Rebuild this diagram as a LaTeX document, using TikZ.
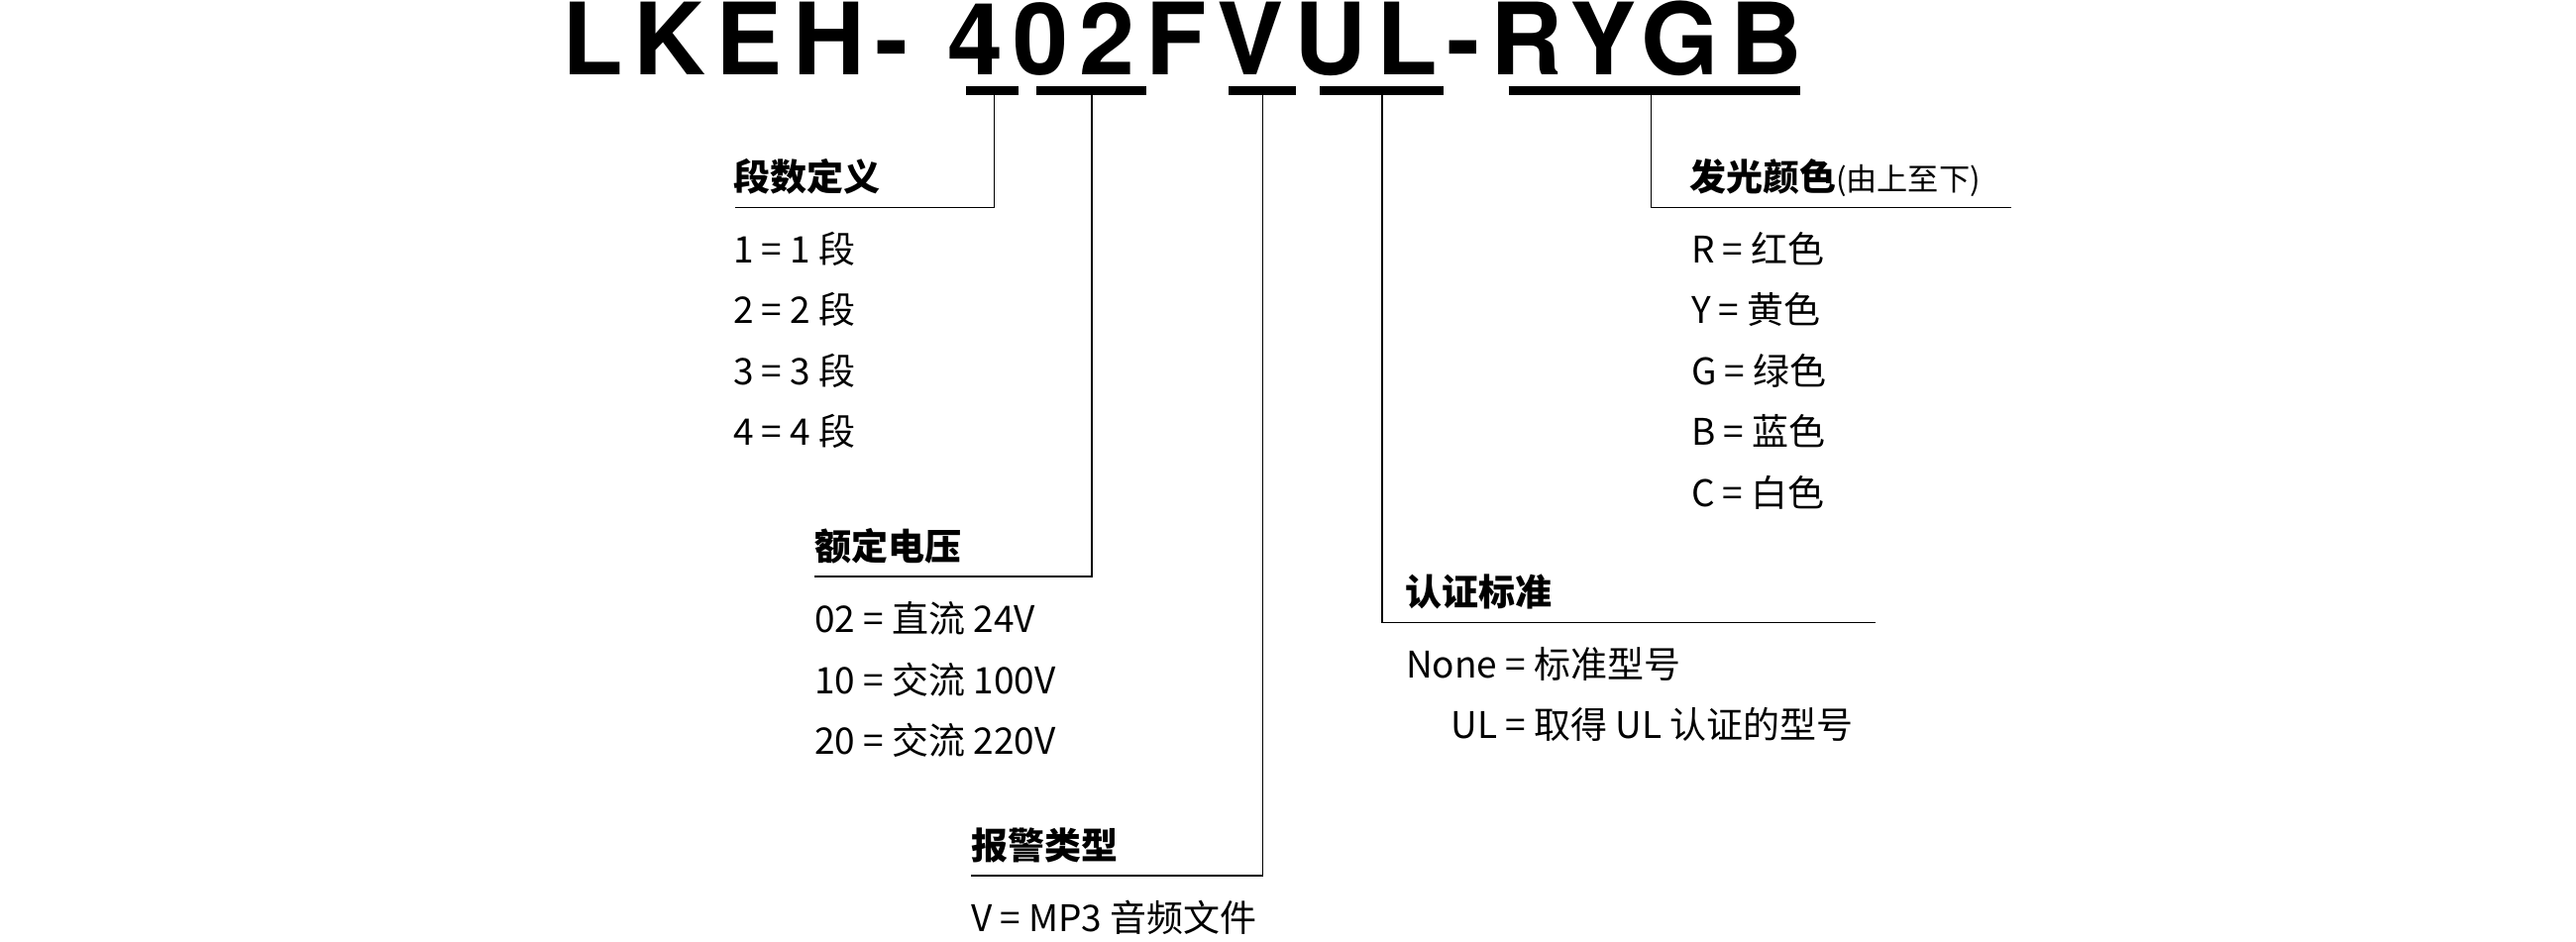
\documentclass[tikz,border=0pt]{standalone}
\usepackage{fontspec}
\newfontfamily\cjk{Noto Sans CJK SC}
\newfontfamily\titlefont[LetterSpace=10.6]{TeX Gyre Heros}
\begin{document}
\begin{tikzpicture}[x=0.5pt,y=-0.5pt,
  every node/.style={inner sep=0pt, outer sep=0pt, anchor=base west},
  titletext/.style={font=\titlefont\bfseries\fontsize{50.35}{60}\selectfont},
  head/.style={font=\cjk\bfseries\fontsize{18.5}{22}\selectfont},
  item/.style={font=\cjk\fontsize{18.5}{22}\selectfont},
  conn/.style={line width=0.8pt, black, line join=miter},
  uline/.style={line width=4.2pt, black}]
\useasboundingbox (0,0) rectangle (2600,950);

% title
\node[titletext] (title) at (567,75) {LKEH- 402FVUL-RYGB};

% underline end points
\coordinate (u4a) at (975,91.5);    \coordinate (u4b) at (1027.7,91.5);  \coordinate (u4) at (1003.5,91.5);
\coordinate (u02a) at (1046,91.5);  \coordinate (u02b) at (1157,91.5);   \coordinate (u02) at (1102,91.5);
\coordinate (uVa) at (1240,91.5);   \coordinate (uVb) at (1308,91.5);    \coordinate (uV) at (1274.6,91.5);
\coordinate (uULa) at (1332,91.5);  \coordinate (uULb) at (1457,91.5);   \coordinate (uUL) at (1395,91.5);
\coordinate (uRa) at (1522.6,91.5); \coordinate (uRb) at (1817,91.5);    \coordinate (uR) at (1666.5,91.5);

\draw[uline] (u4a) -- (u4b);
\draw[uline] (u02a) -- (u02b);
\draw[uline] (uVa) -- (uVb);
\draw[uline] (uULa) -- (uULb);
\draw[uline] (uRa) -- (uRb);

% heading line ends
\coordinate (L1) at (742,209.3);
\coordinate (L2) at (822,582);
\coordinate (L3) at (980,884);
\coordinate (L4) at (1893,628.3);
\coordinate (L5) at (2030,209.3);

% headings
\node[head] (h1) at (740,192) {段数定义};
\node[head] (h2) at (822,565) {额定电压};
\node[head] (h3) at (980,867) {报警类型};
\node[head] (h4) at (1418,611) {认证标准};
\node[head] (h5) at (1705,192) {发光颜色{\mdseries\fontsize{15.6}{18}\selectfont (由上至下)}};

% items
\node[item] (a1) at (740,265)   {1 = 1 段};
\node[item] (a2) at (740,326.5) {2 = 2 段};
\node[item] (a3) at (740,388)   {3 = 3 段};
\node[item] (a4) at (740,449.5) {4 = 4 段};

\node[item] (b1) at (822,638.5) {02 = 直流 24V};
\node[item] (b2) at (822,700)   {10 = 交流 100V};
\node[item] (b3) at (822,761.5) {20 = 交流 220V};

\node[item] (c1) at (980,940) {V = MP3 音频文件};

\node[item] (d1) at (1419,684)   {None = 标准型号};
\node[item] (d2) at (1419,745.5) {\hphantom{None}\llap{UL} = 取得 UL 认证的型号};

\node[item] (e1) at (1707,265)   {R = 红色};
\node[item] (e2) at (1707,326.5) {Y = 黄色};
\node[item] (e3) at (1707,388)   {G = 绿色};
\node[item] (e4) at (1707,449.5) {B = 蓝色};
\node[item] (e5) at (1707,511)   {C = 白色};

% connectors
\draw[conn] (u4) |- (L1);
\draw[conn] (u02) |- (L2);
\draw[conn] (uV) |- (L3);
\draw[conn] (uUL) |- (L4);
\draw[conn] (uR) |- (L5);
\end{tikzpicture}
\end{document}
